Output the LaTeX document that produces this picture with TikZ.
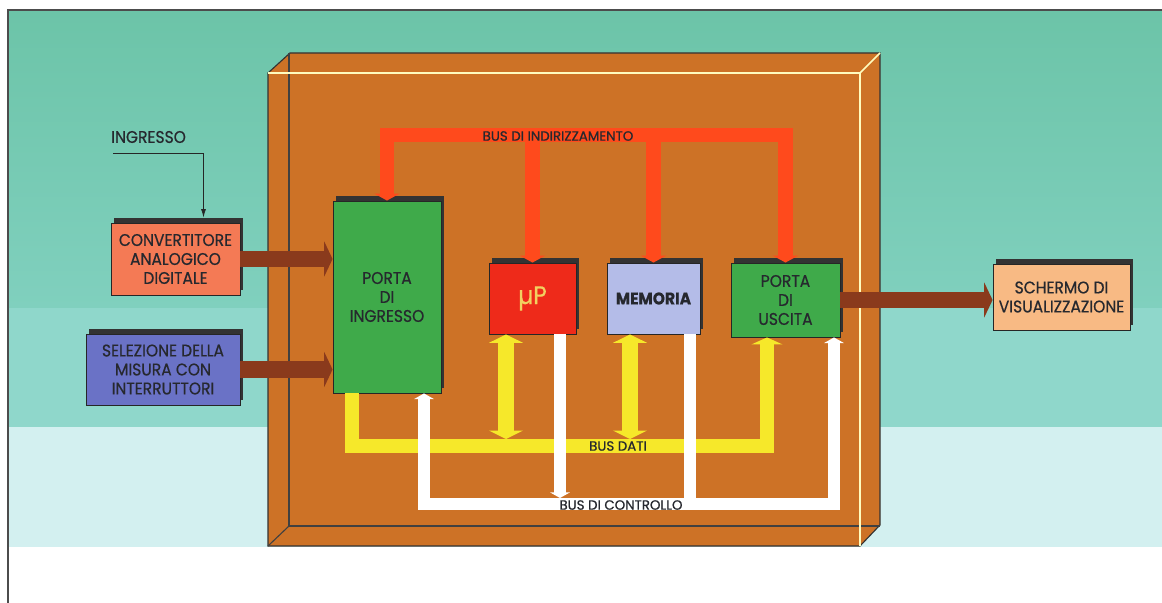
\documentclass[tikz,border=0pt]{standalone}
\usepackage{fontspec}
\setmainfont{Poppins}[FakeStretch=0.92, FakeBold=0.6]
\newfontfamily\busfont{Poppins}[FakeStretch=1.0, FakeBold=0.8]
\usetikzlibrary{arrows.meta, calc, shadows}

\definecolor{bgtop}{HTML}{6CC4A8}
\definecolor{bgmid}{HTML}{80D0BE}
\definecolor{bglow}{HTML}{8FD7CB}
\definecolor{bglight}{HTML}{D3F0F0}
\definecolor{trayc}{HTML}{CD7226}
\definecolor{addrc}{HTML}{FF4A1C}
\definecolor{datac}{HTML}{F6E82A}
\definecolor{feedc}{HTML}{8A3A1C}
\definecolor{convc}{HTML}{F47A55}
\definecolor{selc}{HTML}{6A72C6}
\definecolor{greenc}{HTML}{3FAA4A}
\definecolor{upc}{HTML}{EE2A1A}
\definecolor{upt}{HTML}{F2D060}
\definecolor{memc}{HTML}{B4BCE8}
\definecolor{scrc}{HTML}{F8BA84}
\definecolor{txt}{HTML}{26282E}

\begin{document}
\begin{tikzpicture}[
x=0.025cm, y=-0.025cm,
box/.style={draw=black!85, line width=0.6pt, align=center, text=txt, inner sep=1pt,
  font=\fontsize{12}{13.5}\selectfont,
  general shadow={fill=black!80, shadow xshift=1.8pt, shadow yshift=3.6pt}},
buslabel/.style={font=\busfont\fontsize{9.5}{10}\selectfont, text=txt, inner sep=0pt},
feed/.style={draw=feedc, line width=11.4pt, -{Triangle[width=25pt, length=6pt]}},
addr/.style={draw=addrc, line width=10pt, line join=miter, >={Triangle[width=18pt, length=5pt]}},
dbus/.style={draw=datac, line width=10.5pt, line join=miter, >={Triangle[width=22pt, length=5pt]}},
dbustwo/.style={draw=datac, line width=12pt, >={Triangle[width=24pt, length=6pt]}},
cbus/.style={draw=white, line width=8.5pt, line join=miter, >={Triangle[width=14pt, length=4pt]}},
sig/.style={draw=black!85, line width=0.6pt, -{Latex[length=6pt, width=3.5pt]}}
]
\useasboundingbox (0,0) rectangle (1162,603);

% background
\fill[white] (0,0) rectangle (1162,603);
\shade[top color=bgtop, bottom color=bgmid] (8,10) rectangle (1162,308);
\fill[bglow] (8,308) rectangle (1162,427);
\fill[bglight] (8,427) rectangle (1162,547);
\draw[black!70, line width=0.8pt] (8,603) -- (8,10) -- (1162,10);

% tray
\fill[trayc, draw=black!80, line width=0.8pt] (268,73) -- (290,53) -- (880,53) -- (880,525) -- (860,546) -- (268,546) -- cycle;
\draw[black!75, line width=0.8pt] (289,53) -- (289,526) -- (880,526);
\draw[black!75, line width=0.8pt] (268,546) -- (289,526);
\draw[yellow!25, line width=1.2pt] (268,73) -- (860,73) -- (860,546);
\draw[yellow!25, line width=1.2pt] (860,73) -- (880,53);

% blocks
\node[box, fill=convc, minimum width=3.225cm, minimum height=1.8cm] (conv) at (175.5,259) {CONVERTITORE\\ANALOGICO\\DIGITALE};
\node[box, fill=selc, minimum width=3.85cm, minimum height=1.775cm] (sel) at (163,369.5) {SELEZIONE DELLA\\MISURA CON\\INTERRUTTORI};
\node[box, fill=greenc, minimum width=2.7cm, minimum height=4.8cm] (pin) at (387,297) {PORTA\\DI\\INGRESSO};
\node[box, fill=upc, minimum width=2.175cm, minimum height=1.775cm, text=upt, font=\fontsize{18}{18}\selectfont] (up) at (532.5,298.5) {µP};
\node[box, fill=memc, minimum width=2.325cm, minimum height=1.775cm, font=\bfseries\fontsize{12}{12}\selectfont] (mem) at (653.5,298.5) {MEMORIA};
\node[box, fill=greenc, minimum width=2.725cm, minimum height=1.85cm] (pout) at (785.5,300) {PORTA\\DI\\USCITA};
\node[box, fill=scrc, minimum width=3.425cm, minimum height=1.65cm] (scr) at (1061.5,297) {SCHERMO DI\\VISUALIZZAZIONE};

\node[anchor=west, inner sep=0pt, text=txt, font=\fontsize{12}{13}\selectfont] (ing) at (111,137) {INGRESSO};
\coordinate (ingL) at (113,153);
\draw[sig] (ingL) -| ($(conv.north)+(28,-5)$);

% input / output arrows
\draw[feed] (conv.east) -- (conv.east -| pin.west);
\draw[feed] (sel.east) -- (sel.east -| pin.west);
\draw[feed] (pout.east) -- (pout.east -| scr.west);

% address bus
\coordinate (addrR) at (785.5,135);
\draw[addr, <->] (pin.north) |- (addrR) -- (pout.north);
\draw[addr, ->] (up.north |- addrR) -- (up.north);
\draw[addr, ->] (mem.north |- addrR) -- (mem.north);
\node[buslabel] (addrlbl) at (558,136) {BUS DI INDIRIZZAMENTO};

% data bus
\coordinate (dataR) at (767,446);
\coordinate (upD) at (506,439);
\coordinate (memD) at (630,439);
\draw[dbus, ->] ($(pin.south)+(-35,0)$) |- (dataR) -- (pout.south -| dataR);
\draw[dbustwo, <->] (up.south -| upD) -- (upD);
\draw[dbustwo, <->] (mem.south -| memD) -- (memD);
\node[buslabel] (datalbl) at (618,446) {BUS DATI};

% control bus
\coordinate (ctrlR) at (834,504);
\coordinate (upC) at ($(up.south)+(27.5,0)$);
\coordinate (memC) at ($(mem.south)+(36.5,0)$);
\draw[cbus, <->] ($(pin.south)+(37,0)$) |- (ctrlR) -- (pout.south -| ctrlR);
\draw[cbus, ->] (upC) -- ($(upC |- ctrlR)+(0,-6)$);
\draw[cbus] (memC) -- (memC |- ctrlR);
\node[buslabel] (ctrllbl) at (621,505) {BUS DI CONTROLLO};

\end{tikzpicture}
\end{document}
